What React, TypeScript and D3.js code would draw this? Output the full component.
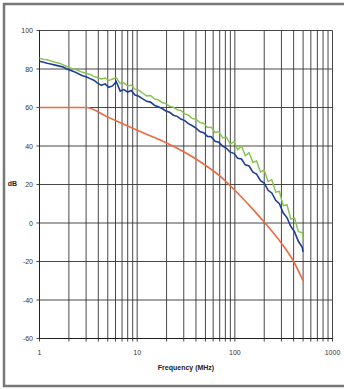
import React from "react";
import * as d3 from "d3";

const freq = [1, 1.1, 1.2, 1.3, 1.45, 1.6, 1.75, 1.9, 2.1, 2.3, 2.5, 2.75, 3, 3.3, 3.6, 3.9, 4.3, 4.7, 5.1, 5.6, 6.1, 6.7, 7.3, 8, 8.7, 9.5, 10.4, 11.4, 12.5, 13.7, 15, 16.4, 18, 19.7, 21.5, 23.5, 25.7, 28, 30.7, 33.5, 36.7, 40, 43.8, 48, 52.4, 57.3, 62.7, 68.6, 75, 82, 89.6, 98, 107, 117, 128, 140, 153, 167, 183, 200, 219, 239, 262, 286, 313, 342, 374, 409, 447, 489, 500];

const blue = [84, 83.5, 83, 82.6, 82, 81.5, 81, 80, 79.2, 78.5, 77.5, 76.5, 76, 75, 74.2, 72.8, 71.5, 72.3, 70.5, 71.2, 73.5, 68.5, 69.3, 68, 68.8, 66.5, 65.8, 64.5, 63.2, 62.8, 61.2, 60.4, 59.5, 58.2, 57.5, 56, 55.4, 54, 53.2, 51.6, 50.5, 49.3, 47.5, 46.9, 45, 44.8, 42.4, 41.9, 40, 38.8, 36.8, 36.2, 33.6, 33.2, 30.2, 29.6, 26.4, 25.4, 22, 20.8, 17, 15.6, 11.8, 10, 5.2, 2.8, -1.8, -4.6, -9.5, -12.5, -15];

const green = [85.6, 85, 84.8, 84.2, 83.5, 83, 82.2, 81.3, 80.5, 79.8, 79.2, 78.3, 77.8, 77.2, 76.2, 75.6, 74.8, 75.3, 74, 74.8, 75.5, 72.5, 72.8, 71.2, 71.6, 69.5, 69, 67.4, 66, 66.2, 64.5, 64, 62.6, 62, 60.6, 60.2, 58.8, 58.5, 56.7, 56, 54.3, 54, 52.2, 51.8, 49.6, 49.8, 47, 47.4, 44.2, 44.6, 41, 42.2, 38, 40, 35, 36.5, 31.5, 32.2, 26.5, 27.5, 21.5, 22.5, 16, 16.5, 9, 9.5, 2, 2.5, -4.5, -5, -8];

const limitFreq = [1, 2, 3, 5, 7, 10, 15, 20, 30, 50, 70, 100, 150, 200, 300, 400, 500];
const limit = [60, 60, 60, 55, 51.7, 48.2, 44.4, 41.6, 37, 30, 24.5, 17, 7.6, 0.5, -10.5, -20, -30];

const yTicks = [100, 80, 60, 40, 20, 0, -20, -40, -60];
const xTickLabels = [1, 10, 100, 1000];
const xTitle = "Frequency (MHz)";
const yTitle = "dB";

export default function App() {
  const W = 344, H = 389;
  const x = d3.scaleLog().domain([1, 1000]).range([39.5, 332.5]);
  const y = d3.scaleLinear().domain([-60, 100]).range([338.5, 30.5]);

  const minor: number[] = [];
  for (const dec of [1, 10, 100]) for (let k = 1; k <= 9; k++) minor.push(dec * k);
  minor.push(1000);

  const line = d3
    .line<[number, number]>()
    .x((d) => x(d[0]))
    .y((d) => y(d[1]))
    .curve(d3.curveLinear);
  const smooth = d3
    .line<[number, number]>()
    .x((d) => x(d[0]))
    .y((d) => y(d[1]))
    .curve(d3.curveMonotoneX);

  const font = "'Liberation Sans', Arial, sans-serif";

  return (
    <svg
      width={W}
      height={H}
      style={{ position: "absolute", left: 0, top: 0, background: "#fff" }}
    >
      <rect x={0} y={0} width={W} height={H} fill="#fff" />
      <rect x={4} y={4} width={W + 4} height={382} fill="#fff" stroke="#777" strokeWidth={2.5} />
      {minor.map((f) => (
        <line key={"v" + f} x1={x(f)} x2={x(f)} y1={y(100)} y2={y(-60) + 3} stroke="#333" strokeWidth={0.9} />
      ))}
      {yTicks.map((t) => (
        <line key={"h" + t} x1={x(1) - 3} x2={x(1000)} y1={y(t)} y2={y(t)} stroke="#333" strokeWidth={0.9} />
      ))}
      <line x1={x(1)} x2={x(1)} y1={y(100)} y2={y(-60)} stroke="#222" strokeWidth={1} />
      <line x1={x(1)} x2={x(1000)} y1={y(-60)} y2={y(-60)} stroke="#222" strokeWidth={1} />
      <path d={smooth(limitFreq.map((f, i) => [f, limit[i]]) as [number, number][]) || ""} fill="none" stroke="#ea6a42" strokeWidth={1.6} />
      <path d={line(freq.map((f, i) => [f, green[i]]) as [number, number][]) || ""} fill="none" stroke="#86c24f" strokeWidth={1.4} />
      <path d={line(freq.map((f, i) => [f, blue[i]]) as [number, number][]) || ""} fill="none" stroke="#1f3f95" strokeWidth={1.6} />
      {yTicks.map((t) => (
        <text key={"yl" + t} x={33} y={y(t) + 2.5} textAnchor="end" fontSize={7} fontFamily={font} fill="#333">
          {t}
        </text>
      ))}
      {xTickLabels.map((t) => (
        <text key={"xl" + t} x={x(t)} y={355} textAnchor="middle" fontSize={7} fontFamily={font} fill="#333">
          {t}
        </text>
      ))}
      <text x={186} y={370} textAnchor="middle" fontSize={7} fontWeight="bold" fontFamily={font} fill="#222">
        {xTitle}
      </text>
      <text x={12.5} y={186} textAnchor="middle" fontSize={7} fontWeight="bold" fontFamily={font} fill="#222">
        {yTitle}
      </text>
    </svg>
  );
}
